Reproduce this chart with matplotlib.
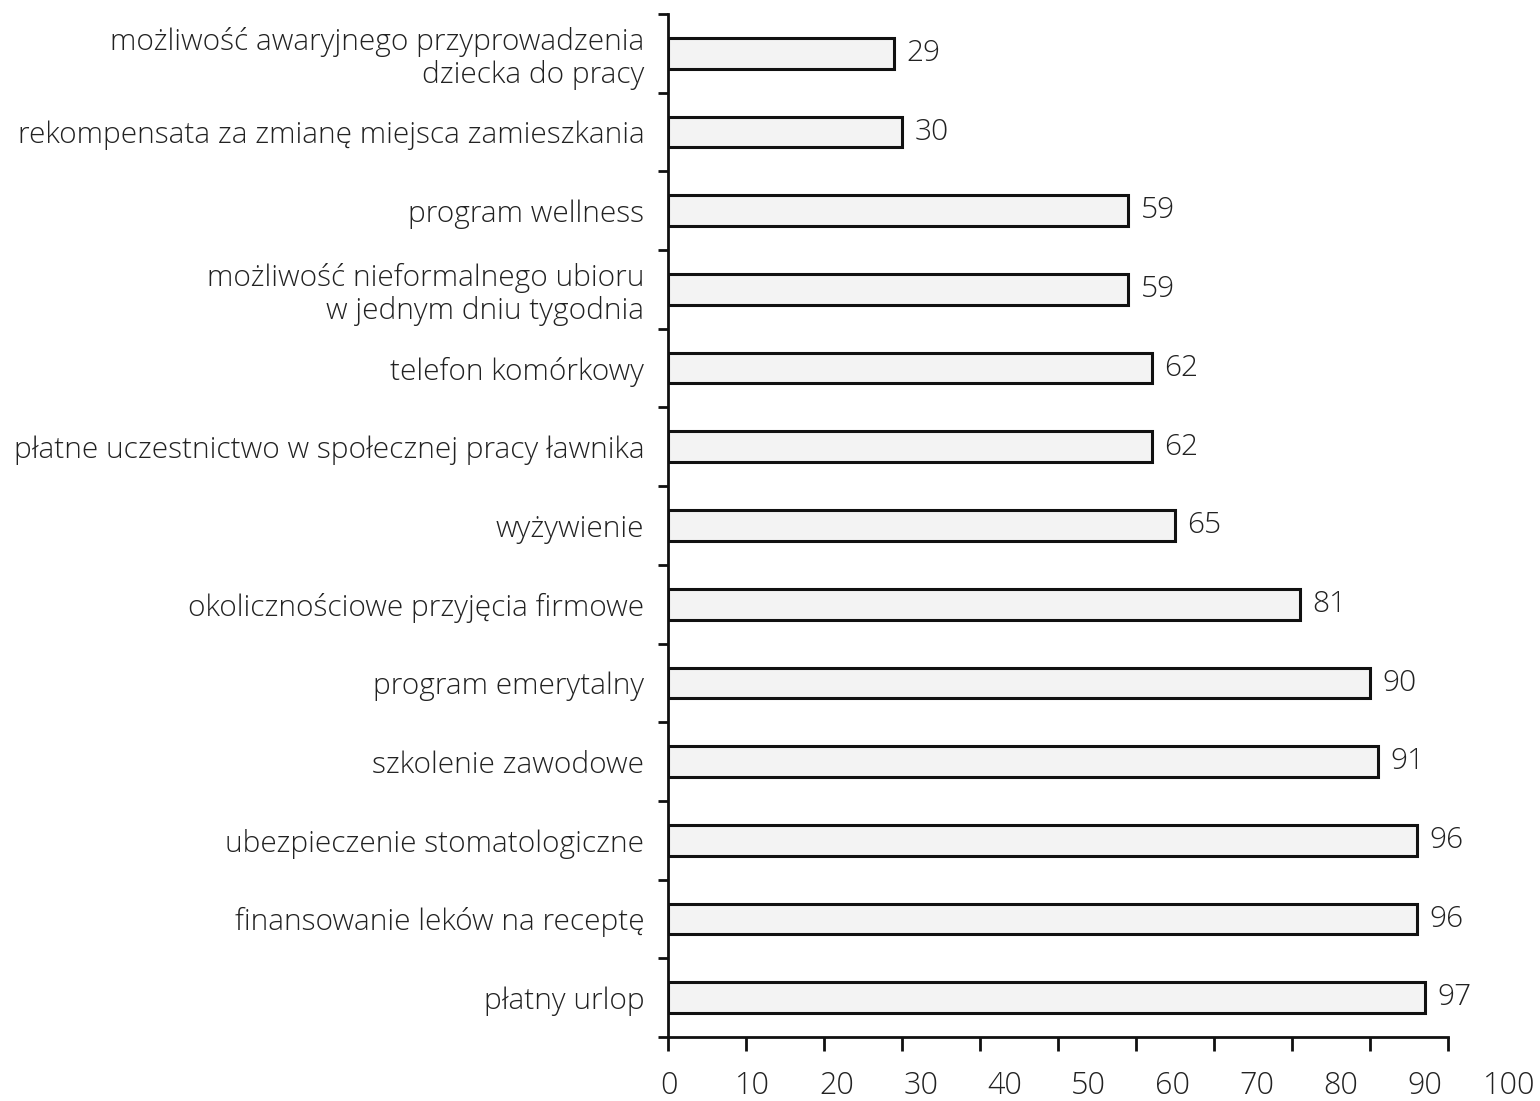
import matplotlib
matplotlib.use("Agg")
import matplotlib.pyplot as plt
import matplotlib.transforms as mtransforms
import numpy as np

plt.rcParams['font.family'] = ['Open Sans', 'DejaVu Sans']
plt.rcParams['font.weight'] = 'light'

# Benefits (top to bottom) and share of companies offering them, %
categories = [
    "możliwość awaryjnego przyprowadzenia\ndziecka do pracy",
    "rekompensata za zmianę miejsca zamieszkania",
    "program wellness",
    "możliwość nieformalnego ubioru\nw jednym dniu tygodnia",
    "telefon komórkowy",
    "płatne uczestnictwo w społecznej pracy ławnika",
    "wyżywienie",
    "okolicznościowe przyjęcia firmowe",
    "program emerytalny",
    "szkolenie zawodowe",
    "ubezpieczenie stomatologiczne",
    "finansowanie leków na receptę",
    "płatny urlop",
]
values = [29, 30, 59, 59, 62, 62, 65, 81, 90, 91, 96, 96, 97]
x_ticks = [0, 10, 20, 30, 40, 50, 60, 70, 80, 90, 100]

TEXT = "#222222"

fig = plt.figure(figsize=(15.4, 11.01), dpi=100)
ax = fig.add_axes([668 / 1540, 1 - 1037 / 1101, 780 / 1540, 1023 / 1101])

y = np.arange(len(categories))
ax.barh(y, values, height=0.39, color="#f3f3f3", edgecolor="#111111",
        linewidth=2.2, zorder=2)

ax.set_xlim(0, 100)
ax.set_ylim(len(categories) - 0.5, -0.5)

for s in ("top", "right"):
    ax.spines[s].set_visible(False)
for s in ("left", "bottom"):
    ax.spines[s].set_linewidth(2.0)
    ax.spines[s].set_color("#111111")

# category labels on the y axis, tick marks between categories
ax.set_yticks(y)
ax.set_yticklabels(categories, fontsize=21.5, color=TEXT, linespacing=1.12)
ax.tick_params(axis="y", which="major", length=0, pad=17)
ax.set_yticks(np.arange(len(categories) + 1) - 0.5, minor=True)
ax.tick_params(axis="y", which="minor", direction="out", length=7,
               width=2.0, color="#111111")

# x ticks; the printed numbers run on a slightly wider spacing
ax.set_xticks(x_ticks)
ax.set_xticklabels([])
ax.tick_params(axis="x", direction="out", length=10, width=2.0,
               color="#111111")
label_step = 84 / 78
off = mtransforms.ScaledTranslation(0, -33 / 100, fig.dpi_scale_trans)
for t in x_ticks:
    ax.text(t * label_step + 0.1, 0, str(t), transform=ax.get_xaxis_transform() + off,
            ha="center", va="top", fontsize=22, color=TEXT, clip_on=False)

# value labels at bar ends
for yi, v in zip(y, values):
    ax.annotate(str(v), (v, yi), xytext=(9, 0), textcoords="offset points",
                ha="left", va="center", fontsize=21.5, color=TEXT)

fig.savefig("out.png", dpi=100)
